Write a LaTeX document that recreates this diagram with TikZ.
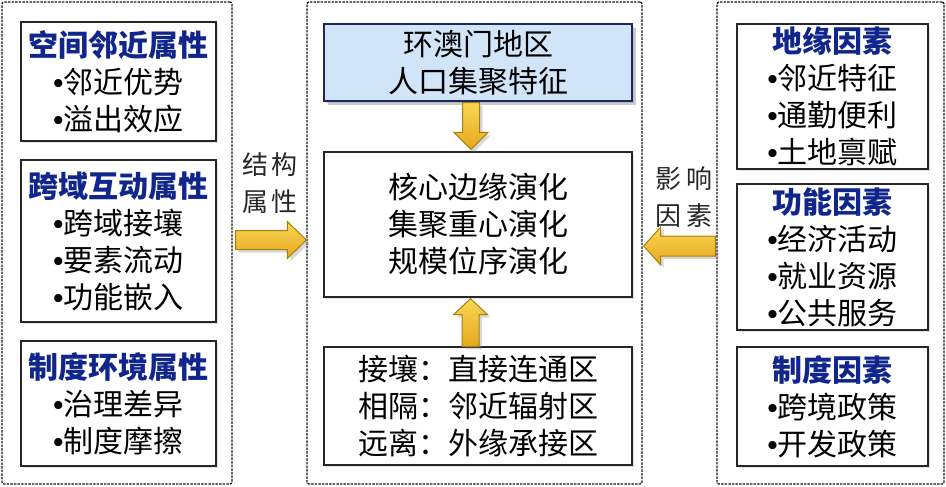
\documentclass[tikz,border=0pt]{standalone}
\usepackage{fontspec}
\setmainfont{Noto Sans CJK SC}
\newfontfamily\latinf{Liberation Sans}
\usetikzlibrary{calc,shadows}
\definecolor{navy}{RGB}{16,38,140}
\definecolor{boxblue}{RGB}{210,229,248}
\definecolor{topborder}{RGB}{25,40,95}
\definecolor{goldlight}{RGB}{250,214,84}
\definecolor{golddark}{RGB}{230,168,30}
\definecolor{goldedge}{RGB}{165,128,12}
\newcommand\bul{{\latinf •}}
\newcommand\ttl[1]{{\bfseries\color{navy}#1}}
\newcommand\blockarrow[6]{%
  \coordinate (#6h) at ($(#2)!#5!(#1)$);
  \draw[goldarrow] ($(#1)!#3!90:(#2)$) -- ($(#6h)!#3!90:(#2)$) -- ($(#6h)!#4!90:(#2)$) -- (#2)
    -- ($(#6h)!#4!-90:(#2)$) -- ($(#6h)!#3!-90:(#2)$) -- ($(#1)!#3!-90:(#2)$) -- cycle;}
\tikzset{
  panel/.style={draw=black!90, line width=1.3pt, dash pattern=on 2.5pt off 1.1pt,
    rounded corners=2pt, inner sep=0pt},
  box/.style={draw=black!85, line width=1.3pt, fill=white, inner sep=0pt, align=center,
    font=\fontsize{30}{37}\selectfont,
    drop shadow={shadow xshift=2pt, shadow yshift=-2pt, opacity=0.22}},
  topbox/.style={box, draw=topborder, fill=boxblue,
    drop shadow={shadow xshift=4pt, shadow yshift=-4pt, opacity=0.4}},
  goldarrow/.style={draw=goldedge, line width=1pt, top color=goldlight, bottom color=golddark,
    drop shadow={shadow xshift=3pt, shadow yshift=-3pt, opacity=0.3}},
  lbl/.style={font=\fontsize{26}{37}\selectfont, align=center, inner sep=0pt, text=black!85}
}
\begin{document}
\begin{tikzpicture}[x=1pt,y=-1pt]
\useasboundingbox (0,0) rectangle (946,487);
% panels
\node[panel, minimum width=230pt, minimum height=482pt] (lp) at (117,243) {};
\node[panel, minimum width=335pt, minimum height=482pt] (cp) at (474.5,243) {};
\node[panel, minimum width=227pt, minimum height=482pt] (rp) at (830.5,243) {};
% left boxes
\node[box, minimum width=195pt, minimum height=119pt] (l1) at (118.5,81.5)
  {\ttl{空间邻近属性}\\\bul 邻近优势\\\bul 溢出效应};
\node[box, minimum width=195pt, minimum height=162pt] (l2) at (118.5,241)
  {\ttl{跨域互动属性}\\\bul 跨域接壤\\\bul 要素流动\\\bul 功能嵌入};
\node[box, minimum width=195pt, minimum height=125pt] (l3) at (118.5,403.5)
  {\ttl{制度环境属性}\\\bul 治理差异\\\bul 制度摩擦};
% center boxes
\node[topbox, minimum width=308pt, minimum height=77pt] (top) at (478,62.5)
  {环澳门地区\\人口集聚特征};
\node[box, minimum width=308pt, minimum height=145pt] (mid) at (478,224.5)
  {核心边缘演化\\集聚重心演化\\规模位序演化};
\node[box, minimum width=308pt, minimum height=118pt] (bot) at (478,406)
  {接壤：直接连通区\\相隔：邻近辐射区\\远离：外缘承接区};
% right boxes
\node[box, minimum width=191pt, minimum height=145pt] (r1) at (832.5,96.5)
  {\ttl{地缘因素}\\\bul 邻近特征\\\bul 通勤便利\\\bul 土地禀赋};
\node[box, minimum width=191pt, minimum height=146pt] (r2) at (832.5,257)
  {\ttl{功能因素}\\\bul 经济活动\\\bul 就业资源\\\bul 公共服务};
\node[box, minimum width=191pt, minimum height=119pt] (r3) at (832.5,406.5)
  {\ttl{制度因素}\\\bul 跨境政策\\\bul 开发政策};
% labels
\node[lbl] (lab1) at (270,183) {结\hspace{4pt}构\\属\hspace{4pt}性};
\node[lbl] (lab2) at (684,197) {影\hspace{5pt}响\\因\hspace{5pt}素};
% arrows
\coordinate (d1) at ($(top.south)+(-7pt,-1pt)$);
\coordinate (d2) at ($(mid.north)+(-7pt,2pt)$);
\blockarrow{d1}{d2}{8.5pt}{17pt}{17pt}{da}
\coordinate (u1) at ($(bot.north)+(-7.5pt,0pt)$);
\coordinate (u2) at ($(mid.south)+(-7.5pt,-1pt)$);
\blockarrow{u1}{u2}{8.5pt}{17pt}{16pt}{ua}
\coordinate (r1s) at ($(lp.east)+(3pt,3pt)$);
\coordinate (r1e) at ($(cp.west)+(0pt,3pt)$);
\blockarrow{r1s}{r1e}{9.5pt}{18.5pt}{19pt}{ra}
\coordinate (q1s) at ($(rp.west)+(-1pt,-3pt)$);
\coordinate (q1e) at ($(cp.east)+(1pt,-3pt)$);
\blockarrow{q1s}{q1e}{10pt}{19pt}{17pt}{qa}
\end{tikzpicture}
\end{document}
